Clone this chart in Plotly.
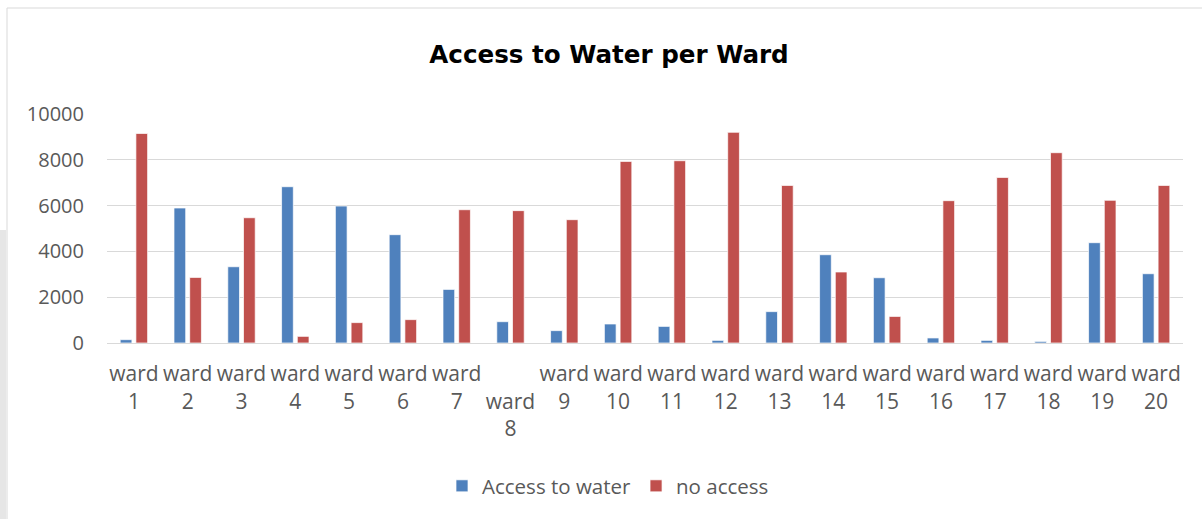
import plotly.graph_objects as go

wards = ["ward<br>1", "ward<br>2", "ward<br>3", "ward<br>4", "ward<br>5", "ward<br>6",
         "ward<br>7", " <br>ward<br>8", "ward<br>9", "ward<br>10", "ward<br>11", "ward<br>12",
         "ward<br>13", "ward<br>14", "ward<br>15", "ward<br>16", "ward<br>17", "ward<br>18",
         "ward<br>19", "ward<br>20"]
access = [145, 5895, 3330, 6825, 5980, 4730, 2340, 930, 540, 830,
          725, 115, 1370, 3855, 2850, 220, 115, 70, 4380, 3025]
no_access = [9150, 2865, 5470, 290, 890, 1020, 5820, 5780, 5385, 7930,
             7960, 9200, 6880, 3100, 1160, 6215, 7230, 8310, 6230, 6880]
y_ticks = [0, 2000, 4000, 6000, 8000, 10000]
y_tick_text = ["0", "2000", "4000", "6000", "8000", "10000"]

W, H = 1202, 519
L, R, T, B = 107, 19, 114, 176
PW, PH = W - L - R, H - T - B

def px(x):
    return (x - L) / PW

def py(y):
    return (H - B - y) / PH

TXT = "#595959"
FONT = "Open Sans"

fig = go.Figure()
fig.add_trace(go.Bar(x=wards, y=access, name="Access to water",
                     marker=dict(color="#4F81BD", line=dict(color="rgba(255,255,255,0.7)", width=1))))
fig.add_trace(go.Bar(x=wards, y=no_access, name="no access",
                     marker=dict(color="#C0504D", line=dict(color="rgba(255,255,255,0.7)", width=1))))

fig.update_layout(
    width=W, height=H,
    margin=dict(l=L, r=R, t=T, b=B),
    paper_bgcolor="white", plot_bgcolor="white",
    barmode="group", bargap=0.416, bargroupgap=0.255,
    title=dict(text="<b>Access to Water per Ward</b>", x=609 / W, xanchor="center",
               xref="container", yref="container", y=1 - 54 / H, yanchor="middle",
               font=dict(family="DejaVu Sans", size=24.6, color="black")),
    legend=dict(orientation="h", xref="container", yref="container",
                x=608 / W, xanchor="center", y=1 - 486 / H, yanchor="middle",
                font=dict(family=FONT, size=20.5, color=TXT), itemwidth=30,
                traceorder="normal"),
    xaxis=dict(showgrid=False, showline=True, linecolor="#d9d9d9", linewidth=1,
               ticks="", tickfont=dict(family=FONT, size=21, color=TXT), tickangle=0,
               ticklabelstandoff=12),
    yaxis=dict(range=[0, 10000], tickvals=y_ticks, ticktext=y_tick_text, showgrid=True,
               gridcolor="#d9d9d9", gridwidth=1, zeroline=False, showline=False, ticks="",
               tickfont=dict(family=FONT, size=20, color=TXT), ticklabelstandoff=22),
    shapes=[
        dict(type="rect", xref="paper", yref="paper", x0=px(7), x1=px(1210),
             y0=py(8), y1=py(530), line=dict(color="#d9d9d9", width=1), fillcolor="rgba(0,0,0,0)", layer="below"),
        dict(type="rect", xref="paper", yref="paper", x0=px(0), x1=px(6),
             y0=py(230), y1=py(519), line=dict(width=0), fillcolor="#e6e6e6", layer="below"),
    ],
)

fig.write_html("out.html")
